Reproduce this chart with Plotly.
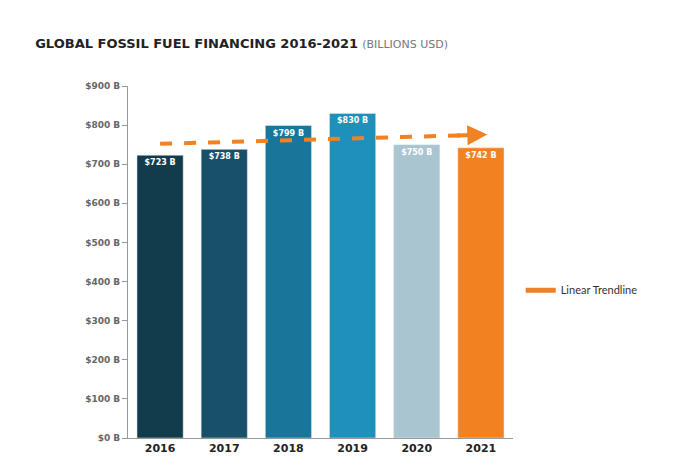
import plotly.graph_objects as go
import numpy as np

years = ["2016", "2017", "2018", "2019", "2020", "2021"]
values = [723, 738, 799, 830, 750, 742]
labels = ["$723 B", "$738 B", "$799 B", "$830 B", "$750 B", "$742 B"]
colors = ["#123b4b", "#18506a", "#19769b", "#1f90b9", "#a9c5cf", "#f28122"]
yticks = [0, 100, 200, 300, 400, 500, 600, 700, 800, 900]
yticklabels = ["<b>$%d B</b>" % v for v in yticks]

xi = np.arange(len(values))
slope, icpt = np.polyfit(xi, values, 1)
trend = slope * xi + icpt

fig = go.Figure()
fig.add_trace(go.Bar(x=years, y=values, marker_color=colors, width=0.72,
                     text=["<b>%s</b>" % l for l in labels], textposition="inside", insidetextanchor="end",
                     textangle=0,
                     textfont=dict(color="white", size=8, family="DejaVu Sans"),
                     showlegend=False, hoverinfo="skip"))
fig.add_trace(go.Scatter(x=years, y=trend, mode="lines",
                         line=dict(color="#f28122", width=4, dash="dash"),
                         showlegend=False))
fig.add_trace(go.Scatter(x=[None], y=[None], mode="lines", name="Linear Trendline",
                         line=dict(color="#f28122", width=5)))
fig.add_annotation(x=5.1, y=trend[-1] + slope * 0.1, ax=4.6, ay=trend[-1] - slope * 0.4,
                   xref="x", yref="y", axref="x", ayref="y", text="",
                   showarrow=True, arrowhead=2, arrowsize=1, arrowwidth=4, arrowcolor="#f28122")

fig.update_layout(
    width=680, height=476, plot_bgcolor="white", paper_bgcolor="white",
    margin=dict(l=120, r=175, t=78, b=46), bargap=0.28,
    title=dict(text="<b>GLOBAL FOSSIL FUEL FINANCING 2016-2021</b> <span style='font-size:11px;color:#777'>(BILLIONS USD)</span>",
               x=0.04, y=0.935, xanchor="left", font=dict(size=13, color="#222", family="DejaVu Sans")),
    legend=dict(x=1.02, y=0.42, xanchor="left", font=dict(size=11, color="#333", family="Lato")),
    xaxis=dict(type="category", showline=True, linecolor="#999", ticks="",
               tickvals=years, ticktext=["<b>%s</b>" % y for y in years],
               tickfont=dict(size=11, color="#222", family="DejaVu Sans"), range=[-0.5, 5.5]),
    yaxis=dict(range=[0, 900], tickvals=yticks, ticktext=yticklabels, showgrid=False,
               showline=True, linecolor="#999", ticks="outside", ticklen=5, tickcolor="#999",
               tickfont=dict(size=9, color="#666", family="DejaVu Sans"), zeroline=False),
)
fig.write_html("out.html")
